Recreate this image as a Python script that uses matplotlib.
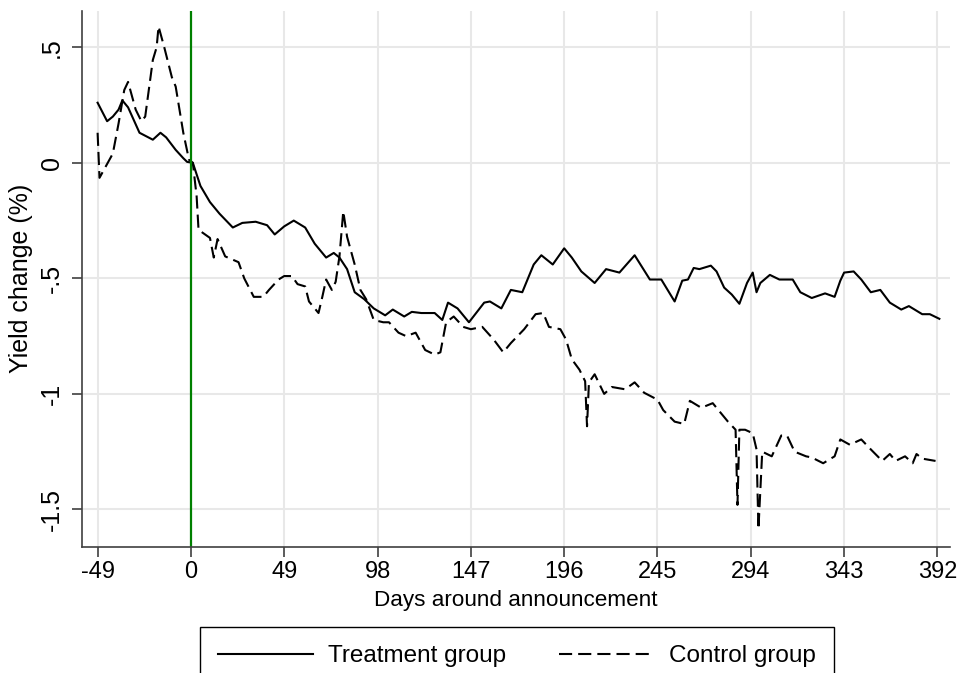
import matplotlib.pyplot as plt
import numpy as np

# values
treat_days = [-49, -44, -41, -38, -36, -33, -27, -20, -16, -13, -8, -4, -2, 1, 5, 10, 15, 22, 27, 34,
              40, 44, 49, 54, 60, 65, 71, 75, 78, 82, 86, 91, 96, 102, 106, 112, 116, 121, 128, 132,
              135, 140, 146, 154, 157, 163, 168, 174, 180, 184, 190, 196, 200, 205, 212, 218, 225, 233,
              241, 247, 254, 258, 261, 264, 267, 273, 276, 280, 284, 288, 292, 295, 297, 299, 304, 309,
              316, 320, 326, 333, 338, 341, 343, 348, 352, 357, 362, 367, 373, 377, 384, 388, 393]
treat_vals = [0.26, 0.18, 0.20, 0.23, 0.27, 0.24, 0.13, 0.10, 0.13, 0.11, 0.056, 0.02, 0.004, 0.0,
              -0.10, -0.17, -0.22, -0.28, -0.26, -0.255, -0.27, -0.31, -0.275, -0.25, -0.28, -0.35,
              -0.41, -0.39, -0.41, -0.46, -0.56, -0.59, -0.63, -0.66, -0.635, -0.665, -0.645, -0.65,
              -0.65, -0.68, -0.605, -0.63, -0.69, -0.605, -0.60, -0.63, -0.55, -0.56, -0.44, -0.40,
              -0.44, -0.37, -0.41, -0.47, -0.52, -0.46, -0.475, -0.40, -0.505, -0.505, -0.60, -0.51,
              -0.505, -0.455, -0.46, -0.445, -0.47, -0.54, -0.57, -0.61, -0.52, -0.475, -0.56, -0.52,
              -0.485, -0.505, -0.505, -0.56, -0.585, -0.565, -0.58, -0.51, -0.475, -0.47, -0.505,
              -0.56, -0.55, -0.605, -0.635, -0.62, -0.655, -0.655, -0.675]

ctrl_days = [-49, -48, -45, -41, -38, -35, -33, -29, -26, -24, -20, -18, -17, -14, -10, -8, -4, -1, 1, 3,
             4, 10, 12, 14, 18, 25, 28, 33, 38, 41, 46, 49, 53, 56, 60, 62, 67, 69, 71, 74, 76, 78, 80,
             82, 86, 89, 92, 96, 101, 104, 109, 113, 118, 123, 128, 131, 134, 138, 143, 147, 153, 159,
             164, 168, 175, 181, 185, 188, 194, 197, 200, 204, 207, 208, 209, 212, 217, 221, 228, 233,
             238, 245, 248, 254, 259, 262, 268, 274, 277, 282, 286, 287, 288, 291, 295, 297, 298, 300,
             305, 310, 313, 317, 323, 326, 332, 338, 341, 346, 352, 357, 363, 367, 370, 375, 379, 381,
             384, 391]
ctrl_vals = [0.13, -0.065, -0.02, 0.04, 0.17, 0.315, 0.35, 0.23, 0.18, 0.20, 0.445, 0.50, 0.59, 0.50,
             0.37, 0.33, 0.13, 0.013, 0.0, -0.145, -0.29, -0.325, -0.41, -0.33, -0.405, -0.43, -0.50,
             -0.58, -0.58, -0.55, -0.505, -0.49, -0.49, -0.525, -0.535, -0.60, -0.65, -0.58, -0.505,
             -0.55, -0.515, -0.405, -0.21, -0.32, -0.44, -0.55, -0.59, -0.68, -0.69, -0.69, -0.735,
             -0.75, -0.735, -0.81, -0.83, -0.82, -0.69, -0.665, -0.71, -0.72, -0.71, -0.765, -0.82,
             -0.78, -0.72, -0.655, -0.65, -0.71, -0.72, -0.765, -0.85, -0.895, -0.945, -1.14, -0.95,
             -0.915, -1.0, -0.97, -0.98, -0.95, -0.995, -1.025, -1.07, -1.12, -1.13, -1.03, -1.06,
             -1.04, -1.07, -1.12, -1.155, -1.48, -1.155, -1.155, -1.17, -1.24, -1.585, -1.25, -1.27,
             -1.18, -1.18, -1.25, -1.27, -1.275, -1.30, -1.27, -1.197, -1.22, -1.197, -1.24, -1.29,
             -1.26, -1.29, -1.27, -1.30, -1.26, -1.28, -1.29]

xticks = [-49, 0, 49, 98, 147, 196, 245, 294, 343, 392]
yticks = [-1.5, -1, -0.5, 0, 0.5]
ytick_labels = ['-1.5', '-1', '-.5', '0', '.5']

plt.rcParams['font.family'] = ['Liberation Sans', 'DejaVu Sans']
plt.rcParams['axes.unicode_minus'] = False

fig = plt.figure(figsize=(9.6, 6.73), dpi=100)
ax = fig.add_axes([0.0854, 0.1877, 0.9042, 0.796])

ax.plot(treat_days, treat_vals, color='black', lw=1.5, label='Treatment group')
ax.plot(ctrl_days, ctrl_vals, color='black', lw=1.5, linestyle=(0, (6.3, 2.9)), label='Control group')
ax.axvline(0, color='#008000', lw=1.6)

ax.set_xlim(-57.2, 398.6)
ax.set_ylim(-1.661, 0.657)
ax.set_xticks(xticks)
ax.set_yticks(yticks)
ax.set_yticklabels(ytick_labels, rotation=90, va='center')
ax.tick_params(length=7, color='#404040', width=1.2)
ax.tick_params(axis='x', labelsize=17, pad=3)
ax.tick_params(axis='y', labelsize=18, pad=6)
ax.grid(True, color='#e8e8e8', lw=1.5)
ax.set_axisbelow(True)
for s in ['top', 'right']:
    ax.spines[s].set_visible(False)
for s in ['left', 'bottom']:
    ax.spines[s].set_color('#404040')
    ax.spines[s].set_linewidth(1.2)

ax.set_xlabel('Days around announcement', fontsize=16.2, labelpad=5)
ax.set_ylabel('Yield change (%)', fontsize=18, labelpad=5)

# legend box runs off the bottom edge, as in the reference
leg = fig.legend(loc='upper center', bbox_to_anchor=(0.5385, 0.0684), ncol=2, fontsize=17.5,
                 handlelength=3.9, handletextpad=0.62, columnspacing=2.2, borderpad=0.75,
                 borderaxespad=0, fancybox=False, edgecolor='black', framealpha=1)
leg.get_frame().set_linewidth(1.0)

fig.savefig('out.png', dpi=100)
